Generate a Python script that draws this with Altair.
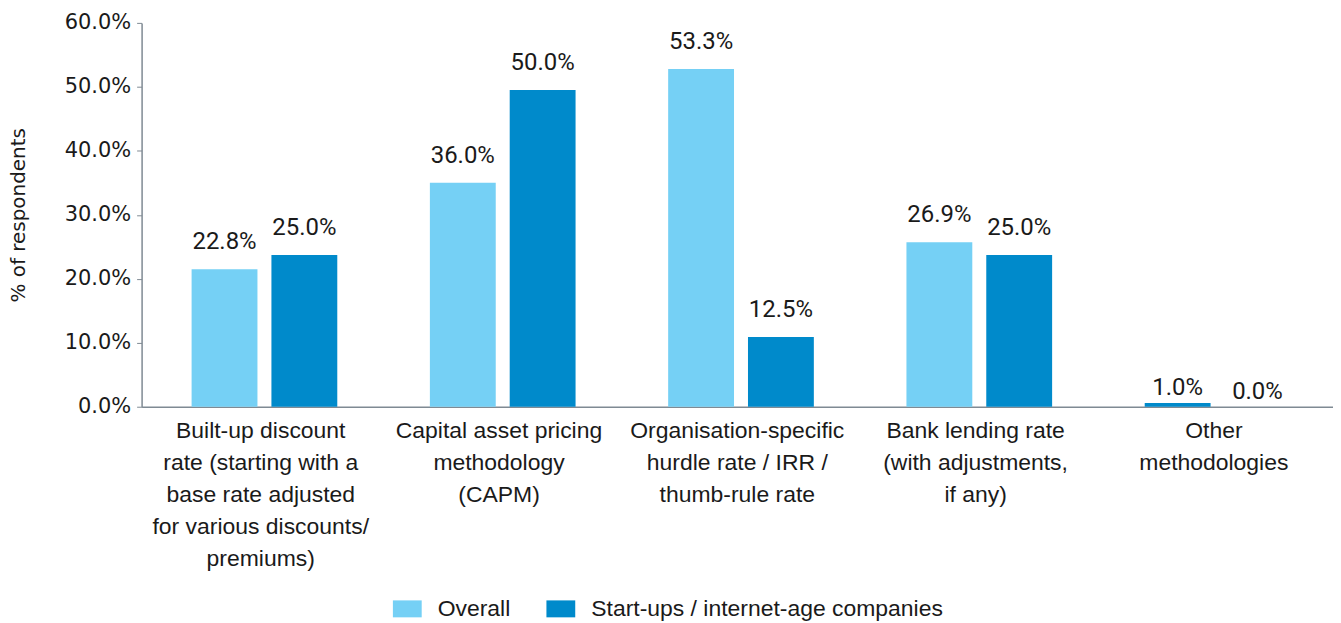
import altair as alt
import pandas as pd

categories = [
    "Built-up discount|rate (starting with a|base rate adjusted|for various discounts/|premiums)",
    "Capital asset pricing|methodology|(CAPM)",
    "Organisation-specific|hurdle rate / IRR /|thumb-rule rate",
    "Bank lending rate|(with adjustments,|if any)",
    "Other|methodologies",
]
series = ["Overall", "Start-ups / internet-age companies"]
overall_bar = [21.5, 35.0, 52.8, 25.7, 0.6]
startup_bar = [23.7, 49.5, 10.9, 23.7, 0.0]
overall_label = ["22.8%", "36.0%", "53.3%", "26.9%", "1.0%"]
startup_label = ["25.0%", "50.0%", "12.5%", "25.0%", "0.0%"]
colors = ["#75D0F5", "#008ACB"]
y_ticks = [0, 10, 20, 30, 40, 50, 60]

rows = []
for i, c in enumerate(categories):
    rows.append({"cat": c, "series": series[0], "value": overall_bar[i], "label": overall_label[i]})
    rows.append({"cat": c, "series": series[1], "value": startup_bar[i], "label": startup_label[i]})
df = pd.DataFrame(rows)

x_enc = alt.X(
    "cat:N",
    sort=categories,
    scale=alt.Scale(paddingInner=0, paddingOuter=0),
    axis=alt.Axis(
        title=None,
        labelAngle=0,
        labelExpr="split(datum.label, '|')",
        labelFont="Liberation Sans",
        labelFontSize=23,
        labelLineHeight=32,
        labelColor="#1a1a1a",
        labelPadding=13,
        ticks=False,
        domainColor="#7f8a93",
        domainWidth=1.5,
        labelLimit=400,
    ),
)
xo_scale = alt.Scale(paddingInner=0.175, paddingOuter=0.58, align=0.54)
y_enc = alt.Y(
    "value:Q",
    scale=alt.Scale(domain=[0, 60], nice=False),
    axis=alt.Axis(
        title="% of respondents",
        values=y_ticks,
        labelExpr="format(datum.value, '.1f') + '%'",
        labelFont="DejaVu Sans",
        labelFontSize=21,
        labelColor="#1a1a1a",
        labelPadding=6,
        tickSize=5,
        tickColor="#7f8a93",
        domainColor="#7f8a93",
        domainWidth=1.5,
        grid=False,
        titleFont="DejaVu Sans",
        titleFontSize=20,
        titleFontWeight="normal",
        titleColor="#1a1a1a",
        titlePadding=36,
    ),
)

bars = alt.Chart(df).mark_bar().encode(
    x=x_enc,
    xOffset=alt.XOffset("series:N", sort=series, scale=xo_scale),
    y=y_enc,
    color=alt.condition(
        "datum.value > 0 && datum.value < 2",
        alt.value(colors[1]),
        alt.Color(
            "series:N",
            sort=series,
            scale=alt.Scale(domain=series, range=colors),
            legend=alt.Legend(
                title=None,
                orient="none",
                legendX=255,
                legendY=576,
                direction="horizontal",
                symbolType="M-1.7,-1H1.7V1H-1.7Z",
                symbolSize=289,
                symbolStrokeWidth=0,
                labelFont="Liberation Sans",
                labelFontSize=23,
                labelColor="#1a1a1a",
                labelOffset=19,
                labelLimit=600,
                columnPadding=36,
            ),
        ),
    ),
)

text_props = dict(baseline="alphabetic", font="Liberation Sans Narrow, Roboto", fontSize=24, color="#1a1a1a")
text_enc = dict(
    x=alt.X("cat:N", sort=categories),
    xOffset=alt.XOffset("series:N", sort=series),
    y=alt.Y("value:Q"),
    text="label:N",
)
labels_tall = alt.Chart(df).transform_filter("datum.value >= 2").mark_text(dy=-20, **text_props).encode(**text_enc)
labels_small = alt.Chart(df).transform_filter("datum.value < 2").mark_text(dy=-8, **text_props).encode(**text_enc)

chart = (
    alt.layer(bars, labels_tall, labels_small)
    .properties(
        width=1195,
        height=385,
        autosize="none",
        padding={"left": 134, "top": 14, "right": 0, "bottom": 216},
    )
    .configure_view(stroke=None)
)

chart.save("out.html", embed_options={"renderer": "svg", "actions": False})
